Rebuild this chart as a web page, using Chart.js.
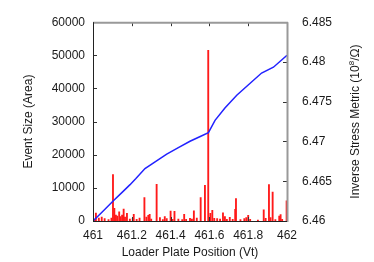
<!DOCTYPE html>
<html><head><meta charset="utf-8">
<script src="https://cdn.jsdelivr.net/npm/chart.js@4"></script>
<style>html,body{margin:0;padding:0;background:#fff}#wrap{width:374px;height:262px;position:relative}</style>
</head><body><div id="wrap"><canvas id="c"></canvas></div>
<script>
const xTicks = [461, 461.2, 461.4, 461.6, 461.8, 462];
const yTicks = [0, 10000, 20000, 30000, 40000, 50000, 60000];
const y2Ticks = [6.46, 6.465, 6.47, 6.475, 6.48, 6.485];
const y2TitleParts = ['Inverse Stress Metric (10', '8', '/Ω)'];

const eventX = [461.005,461.015,461.03,461.045,461.06,461.08,461.095,461.103,461.11,461.118,461.125,461.135,461.142,461.15,461.158,461.165,461.175,461.19,461.205,461.21,461.225,461.24,461.265,461.275,461.285,461.292,461.3,461.328,461.345,461.36,461.37,461.38,461.4,461.41,461.42,461.44,461.46,461.47,461.48,461.5,461.51,461.52,461.535,461.555,461.577,461.594,461.605,461.615,461.625,461.64,461.655,461.67,461.68,461.69,461.705,461.72,461.733,461.737,461.76,461.78,461.79,461.8,461.81,461.85,461.88,461.89,461.907,461.915,461.926,461.94,461.96,461.967,461.975,461.998];
const eventSize = [600,2400,900,1200,700,400,900,14000,3800,1800,1500,2800,1300,1800,3600,1200,2300,600,800,2000,500,900,7100,1200,1700,2000,600,11100,1000,400,1300,700,3000,500,2900,600,400,2000,500,800,600,3100,900,7100,10800,51500,2300,3200,800,700,600,2500,1300,500,1100,500,3500,6800,400,700,1000,1700,500,300,3400,800,11000,1000,8700,400,1500,1900,500,6100];

const stressX = [461.0,461.05,461.105,461.15,461.191,461.22,461.268,461.32,461.38,461.44,461.5,461.55,461.595,461.629,461.68,461.741,461.8,461.869,461.93,462.0];
const stressVal = [6.46,6.4612,6.46255,6.4636,6.46457,6.4653,6.46659,6.46744,6.46841,6.46922,6.47003,6.4706,6.47112,6.47266,6.4742,6.47582,6.4771,6.47861,6.47934,6.48083];

const FONT = '"Liberation Sans", Arial, Helvetica, sans-serif';
Chart.defaults.font.family = FONT;
Chart.defaults.font.size = 12;
Chart.defaults.color = '#1a1a1a';

const frame = {
  id: 'frame',
  afterDraw(chart) {
    const {ctx, chartArea: {left, right, top, bottom}, scales} = chart;
    ctx.save();
    ctx.strokeStyle = '#333';
    ctx.lineWidth = 1;
    ctx.beginPath();
    scales.x.ticks.forEach((t, i) => {
      const px = Math.round(scales.x.getPixelForTick(i)) + 0.5;
      ctx.moveTo(px, bottom); ctx.lineTo(px, bottom - 4);
      ctx.moveTo(px, top); ctx.lineTo(px, top + 4);
    });
    scales.y.ticks.forEach((t, i) => {
      const py = Math.round(scales.y.getPixelForTick(i)) + 0.5;
      ctx.moveTo(left, py); ctx.lineTo(left + 4, py);
    });
    scales.y2.ticks.forEach((t, i) => {
      const py = Math.round(scales.y2.getPixelForTick(i)) + 0.5;
      ctx.moveTo(right, py); ctx.lineTo(right - 4, py);
    });
    ctx.stroke();
    ctx.strokeStyle = '#999';
    ctx.lineWidth = 2;
    ctx.beginPath();
    ctx.moveTo(left, top + 0.5); ctx.lineTo(right + 1, top + 0.5);
    ctx.moveTo(right + 0.5, top); ctx.lineTo(right + 0.5, bottom + 1);
    ctx.stroke();
    ctx.strokeStyle = '#222';
    ctx.lineWidth = 1;
    ctx.beginPath();
    ctx.moveTo(left + 0.5, top); ctx.lineTo(left + 0.5, bottom + 1);
    ctx.moveTo(left, bottom + 0.5); ctx.lineTo(right, bottom + 0.5);
    ctx.stroke();

    // right axis title, reading bottom-to-top, with superscript
    const cx = scales.y2.right - 18;
    const cy = (top + bottom) / 2;
    ctx.translate(cx, cy);
    ctx.rotate(-Math.PI / 2);
    ctx.fillStyle = '#1a1a1a';
    ctx.textBaseline = 'middle';
    ctx.textAlign = 'left';
    const f1 = '12px ' + FONT, f2 = '8px ' + FONT;
    ctx.font = f1; const w0 = ctx.measureText(y2TitleParts[0]).width;
    ctx.font = f2; const w1 = ctx.measureText(y2TitleParts[1]).width;
    ctx.font = f1; const w2 = ctx.measureText(y2TitleParts[2]).width;
    let x = -(w0 + w1 + w2) / 2;
    ctx.font = f1; ctx.fillText(y2TitleParts[0], x, 0); x += w0;
    ctx.font = f2; ctx.fillText(y2TitleParts[1], x, -4); x += w1;
    ctx.font = f1; ctx.fillText(y2TitleParts[2], x, 0);
    ctx.restore();
  }
};

new Chart(document.getElementById('c'), {
  type: 'bar',
  data: {
    datasets: [
      {
        type: 'line',
        label: 'Inverse Stress Metric',
        data: stressX.map((x, i) => ({x, y: stressVal[i]})),
        xAxisID: 'x', yAxisID: 'y2',
        borderColor: '#2222ff', borderWidth: 1.5,
        pointRadius: 0, tension: 0, fill: false, order: 0
      },
      {
        type: 'bar',
        label: 'Event Size',
        data: eventX.map((x, i) => ({x, y: eventSize[i]})),
        xAxisID: 'x', yAxisID: 'y',
        backgroundColor: '#ff1a1a', borderWidth: 0,
        barThickness: 1.2, grouped: false, order: 1
      }
    ]
  },
  options: {
    responsive: true, maintainAspectRatio: false, animation: false,
    devicePixelRatio: 1,
    layout: {padding: {top: 15, left: 0, right: 0, bottom: 0}},
    plugins: {legend: {display: false}, tooltip: {enabled: false}},
    scales: {
      x: {
        type: 'linear', position: 'bottom', min: 461, max: 462, offset: false,
        grid: {display: false, drawTicks: false}, border: {display: false},
        afterBuildTicks: s => { s.ticks = xTicks.map(v => ({value: v})); },
        afterFit: s => { s.height = 41; },
        ticks: {padding: 7, maxRotation: 0, autoSkip: false, callback: v => String(+Number(v).toFixed(1))},
        title: {display: true, text: 'Loader Plate Position (Vt)', padding: {top: 0, bottom: 2}}
      },
      y: {
        type: 'linear', position: 'left', min: 0, max: 60000,
        grid: {display: false, drawTicks: false}, border: {display: false},
        afterBuildTicks: s => { s.ticks = yTicks.map(v => ({value: v})); },
        afterFit: s => { s.width = 93; },
        ticks: {padding: 8, callback: v => String(v)},
        title: {display: true, text: 'Event Size (Area)', padding: {top: 21, bottom: 0}}
      },
      y2: {
        type: 'linear', position: 'right', min: 6.46, max: 6.485,
        grid: {display: false, drawTicks: false}, border: {display: false},
        afterBuildTicks: s => { s.ticks = y2Ticks.map(v => ({value: v})); },
        afterFit: s => { s.width = 87; },
        ticks: {padding: 15, callback: v => String(+Number(v).toFixed(3))},
        title: {display: false}
      }
    }
  },
  plugins: [frame]
});
</script>
</body></html>
